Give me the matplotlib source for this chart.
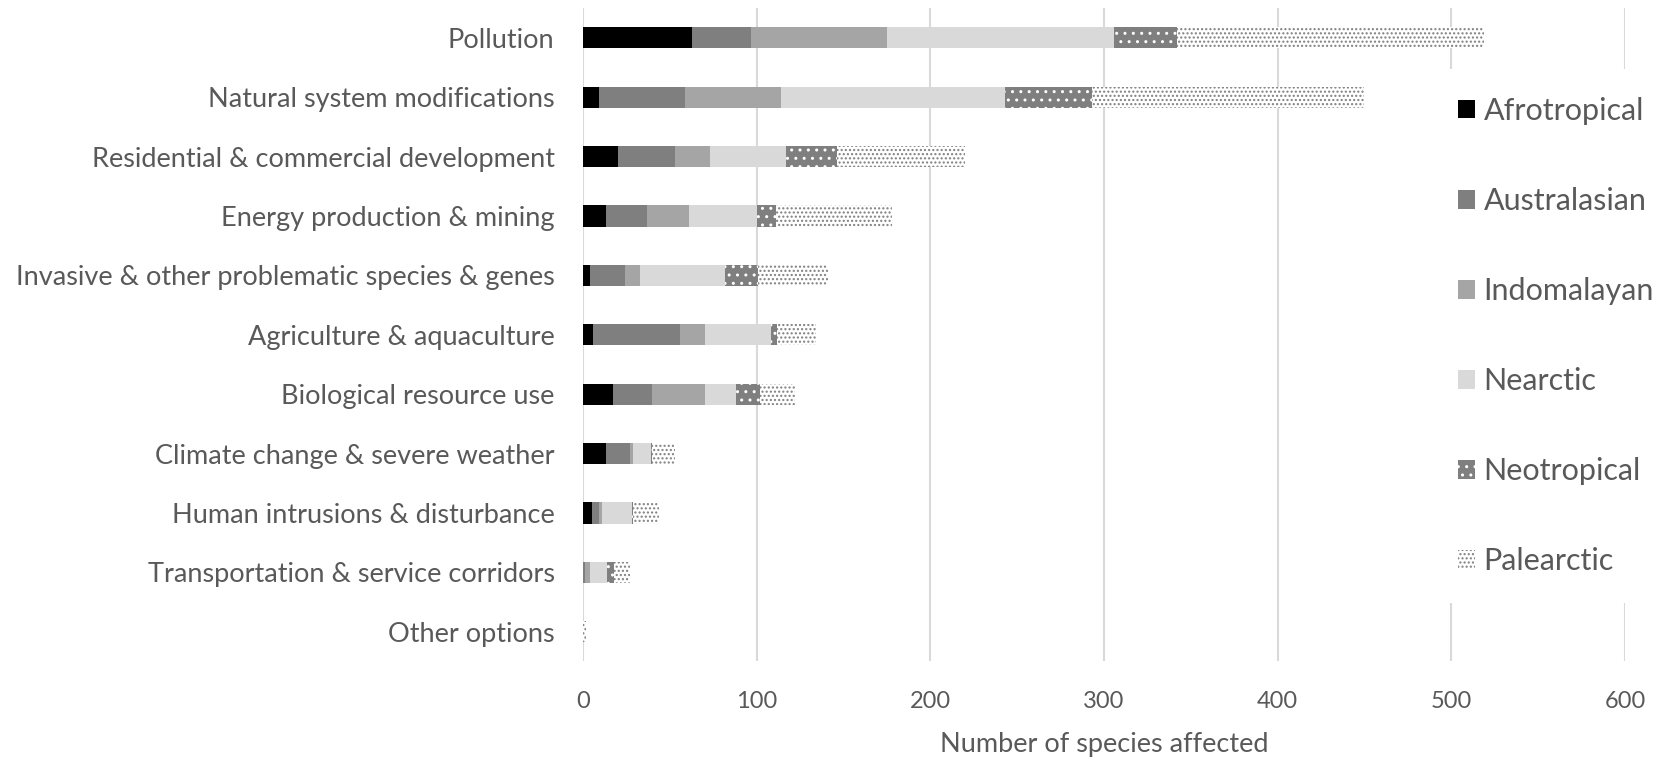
import matplotlib.pyplot as plt
from matplotlib.patches import Patch
import numpy as np

plt.rcParams['font.family'] = ['Lato', 'DejaVu Sans']
plt.rcParams['hatch.linewidth'] = 1.0

# Threat categories, top to bottom
threats = [
    "Pollution",
    "Natural system modifications",
    "Residential & commercial development",
    "Energy production & mining",
    "Invasive & other problematic species & genes",
    "Agriculture & aquaculture",
    "Biological resource use",
    "Climate change & severe weather",
    "Human intrusions & disturbance",
    "Transportation & service corridors",
    "Other options",
]

# Species affected per biogeographic realm
afrotropical = [63, 9, 20, 13, 4, 6, 17, 13, 5, 0, 0]
australasian = [34, 50, 33, 24, 20, 50, 23, 14, 4, 1, 0]
indomalayan = [78, 55, 20, 24, 9, 14, 30, 2, 2, 3, 0]
nearctic = [131, 129, 44, 39, 49, 38, 18, 10, 17, 10, 0]
neotropical = [36, 50, 29, 11, 19, 4, 14, 1, 1, 4, 0]
palearctic = [177, 157, 74, 67, 40, 22, 20, 13, 15, 9, 1.5]

realms = ["Afrotropical", "Australasian", "Indomalayan", "Nearctic", "Neotropical", "Palearctic"]
series = [afrotropical, australasian, indomalayan, nearctic, neotropical, palearctic]

# face colour, hatch colour, hatch pattern
styles = [
    ("#000000", "#000000", None),
    ("#7f7f7f", "#7f7f7f", None),
    ("#a5a5a5", "#a5a5a5", None),
    ("#d9d9d9", "#d9d9d9", None),
    ("#7f7f7f", "#ffffff", ".."),
    ("#ffffff", "#7f7f7f", "...."),
]

text_color = "#595959"
fs_cat = 19.5
fs_num = 17
fs_leg = 22

fig = plt.figure(figsize=(16.6, 7.62), dpi=100)
ax = fig.add_axes([0.3512, 0.1319, 0.6277, 0.8575])

y = np.arange(len(threats))
left = np.zeros(len(threats))
for name, vals, (fc, hc, hatch) in zip(realms, series, styles):
    vals = np.array(vals, dtype=float)
    ax.barh(y, vals, left=left, height=0.355, color=fc, edgecolor=hc,
            hatch=hatch, linewidth=0, zorder=3)
    left += vals

ax.set_xlim(0, 600)
ax.set_ylim(len(threats) - 0.5, -0.5)
ax.set_xticks(range(0, 601, 100))
ax.set_yticks(y)
ax.set_yticklabels(threats)
ax.tick_params(axis="both", length=0, labelcolor=text_color)
ax.tick_params(axis="x", pad=21, labelsize=fs_num)
ax.tick_params(axis="y", pad=20.5, labelsize=fs_cat)
ax.grid(axis="x", color="#d9d9d9", linewidth=1.5, zorder=0)
for s in ax.spines.values():
    s.set_visible(False)
ax.set_xlabel("Number of species affected", fontsize=fs_cat, color=text_color, labelpad=15)

handles = [Patch(facecolor=fc, edgecolor=hc, hatch=hatch, linewidth=0)
           for fc, hc, hatch in styles]
leg = fig.legend(handles, realms, loc="center left", bbox_to_anchor=(0.8617, 0.559),
                 fontsize=fs_leg, frameon=True, framealpha=1, facecolor="white",
                 edgecolor="none", labelspacing=2.03, handlelength=0.56,
                 handleheight=0.56, handletextpad=0.28, borderpad=0.9,
                 borderaxespad=0, fancybox=False)
for t in leg.get_texts():
    t.set_color(text_color)

fig.savefig("out.png", dpi=100)
